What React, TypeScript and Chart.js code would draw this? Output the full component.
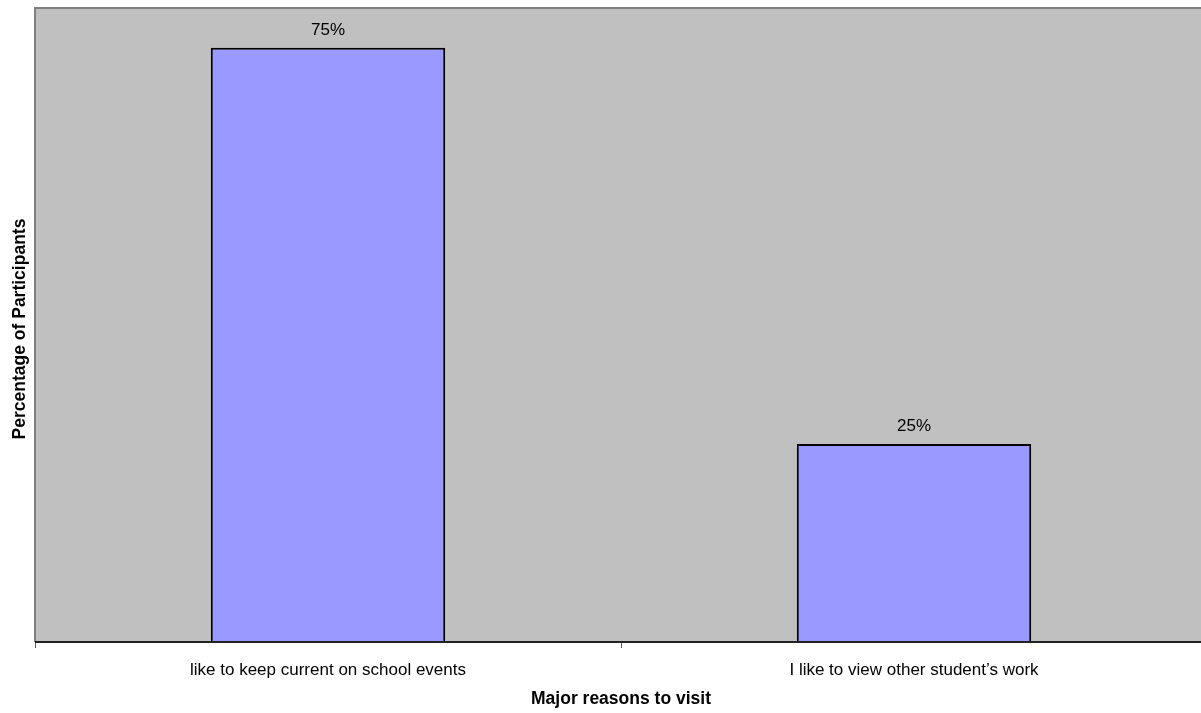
import React, { useEffect, useRef } from "react";
import { Chart, registerables } from "chart.js";

Chart.register(...registerables);

const categories = ["like to keep current on school events", "I like to view other student\u2019s work"];
const percentages = [75, 25];
const valueLabels = ["75%", "25%"];
const xTitle = "Major reasons to visit";
const yTitle = "Percentage of Participants";

const FONT = "'Liberation Sans', Arial, sans-serif";

const plotDecor = {
  id: "plotDecor",
  beforeDatasetsDraw(chart: any) {
    const { ctx, chartArea: a } = chart;
    ctx.save();
    ctx.fillStyle = "#C0C0C0";
    ctx.fillRect(a.left, a.top, a.right - a.left, a.bottom - a.top);
    ctx.strokeStyle = "#808080";
    ctx.lineWidth = 2;
    ctx.beginPath();
    ctx.moveTo(a.left, a.bottom);
    ctx.lineTo(a.left, a.top);
    ctx.lineTo(a.right + 5, a.top);
    ctx.stroke();
    ctx.restore();
  },
  afterDatasetsDraw(chart: any) {
    const { ctx, chartArea: a } = chart;
    ctx.save();
    ctx.strokeStyle = "#222";
    ctx.lineWidth = 2;
    ctx.beginPath();
    ctx.moveTo(a.left, a.bottom);
    ctx.lineTo(a.right + 5, a.bottom);
    ctx.stroke();

    // value labels above bars
    const meta = chart.getDatasetMeta(0);
    ctx.fillStyle = "#000";
    ctx.font = `17px ${FONT}`;
    ctx.textAlign = "center";
    ctx.textBaseline = "alphabetic";
    meta.data.forEach((bar: any, i: number) => {
      ctx.fillText(valueLabels[i], bar.x, bar.y - 13);
    });

    // axis titles
    ctx.font = `bold 17.5px ${FONT}`;
    ctx.fillText(xTitle, (a.left + a.right) / 2, 704);
    ctx.translate(25, 329);
    ctx.rotate(-Math.PI / 2);
    ctx.fillText(yTitle, 0, 0);
    ctx.restore();
  },
};

export default function App() {
  const ref = useRef<HTMLCanvasElement>(null);

  useEffect(() => {
    if (!ref.current) return;
    const chart = new Chart(ref.current, {
      type: "bar",
      data: {
        labels: categories,
        datasets: [
          {
            data: percentages,
            backgroundColor: "#9999FF",
            borderColor: "#000000",
            borderWidth: 2,
            barPercentage: 0.4,
            categoryPercentage: 1,
          },
        ],
      },
      options: {
        responsive: false,
        animation: false,
        layout: { padding: { left: 35, top: 8, right: 3, bottom: 0 } },
        plugins: { legend: { display: false }, tooltip: { enabled: false } },
        scales: {
          y: { display: false, min: 0, max: 80 },
          x: {
            offset: true,
            border: { display: false },
            grid: {
              offset: true,
              drawOnChartArea: false,
              drawTicks: true,
              tickLength: 6,
              color: "#555",
              lineWidth: 1,
            },
            ticks: {
              color: "#000",
              padding: 12,
              font: { family: FONT, size: 17 },
              maxRotation: 0,
              autoSkip: false,
            },
            afterFit(scale: any) {
              scale.height = 71;
            },
          },
        },
      },
      plugins: [plotDecor],
    });
    return () => chart.destroy();
  }, []);

  return (
    <div style={{ position: "fixed", left: 0, top: 0, width: 1201, height: 713, overflow: "hidden", background: "#fff" }}>
      <canvas ref={ref} width={1210} height={713} style={{ display: "block" }} />
    </div>
  );
}
